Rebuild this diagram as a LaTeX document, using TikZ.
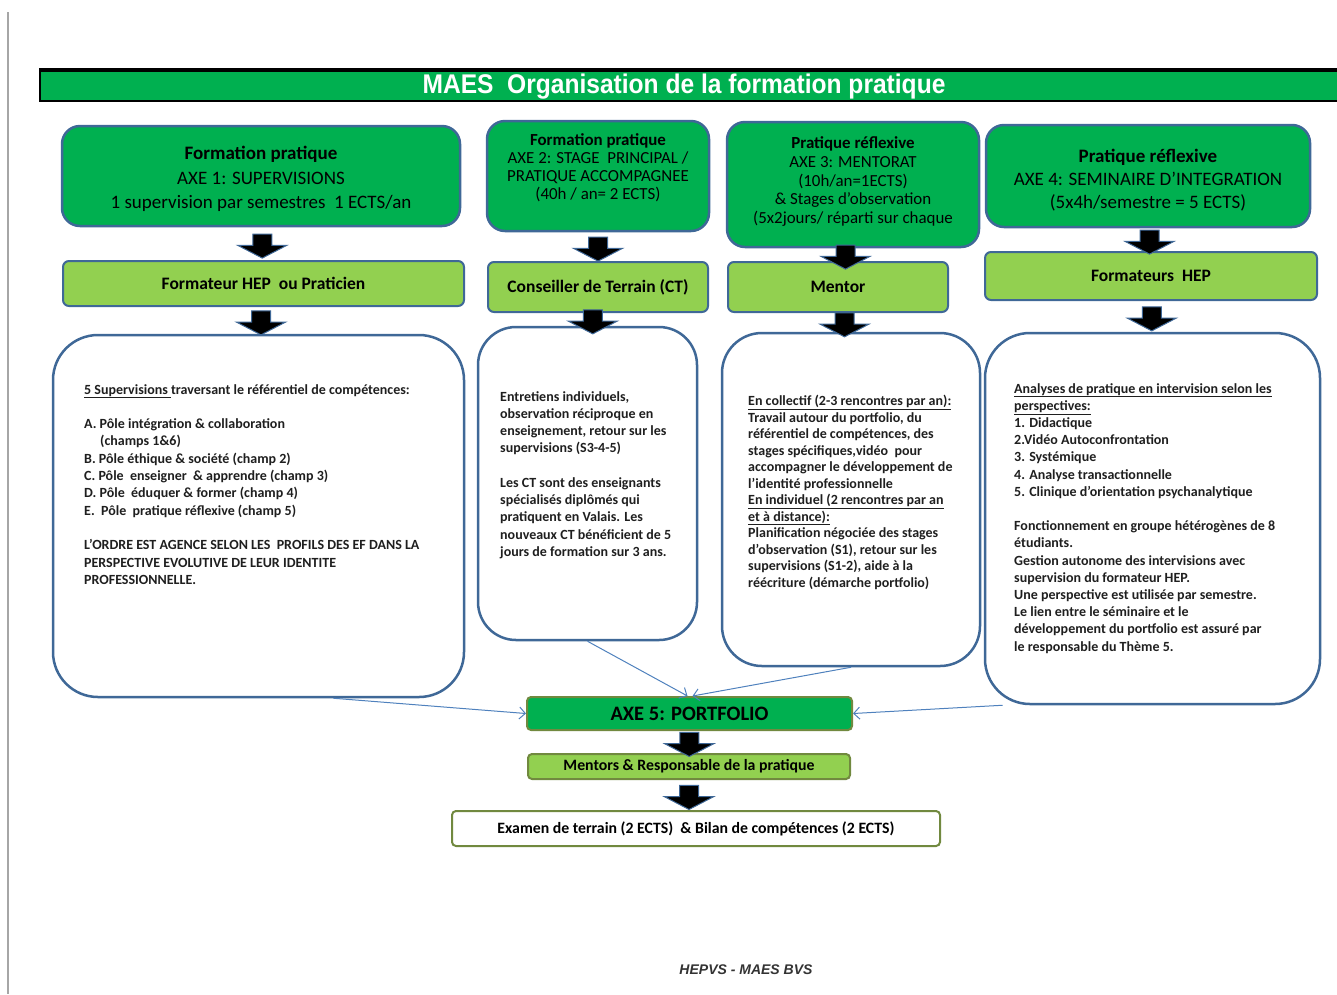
\documentclass[tikz,border=0pt]{standalone}
\usepackage{fontspec}
\setmainfont{Carlito}
\newfontfamily\titlefont{Liberation Sans}
\usetikzlibrary{shapes.arrows,arrows.meta,calc}
\definecolor{axegreen}{HTML}{00B050}
\definecolor{rolegreen}{HTML}{92D050}
\definecolor{boxblue}{HTML}{3F6897}
\definecolor{olivegreen}{HTML}{71893F}
\definecolor{linkblue}{HTML}{4F81BD}

\begin{document}
\begin{tikzpicture}[x=1pt,y=-1pt,
  axe/.style={draw=boxblue,line width=2.5pt,fill=axegreen,rounded corners=18pt,inner sep=0pt,align=center},
  role/.style={draw=boxblue,line width=2pt,fill=rolegreen,rounded corners=6pt,inner sep=0pt,font=\fontsize{17.5}{20}\selectfont\bfseries},
  detail/.style={draw=boxblue,line width=2.5pt,fill=white,rounded corners=45pt,inner sep=0pt},
  note/.style={anchor=north west,inner sep=0pt,align=left,text=black!88,font=\fontsize{14}{17.3}\selectfont\bfseries},
  final/.style={draw=olivegreen,line width=2pt,rounded corners=4pt,inner sep=0pt,font=\bfseries},
  downarrow/.style={single arrow,rotate=-90,fill=black,draw=boxblue,line width=1pt,inner xsep=0pt,inner ysep=9pt,minimum height=24pt,single arrow tip angle=125,single arrow head extend=15pt},
  link/.style={draw=linkblue,line width=1pt,-{Straight Barb[length=6pt,width=12pt]}}]
\useasboundingbox (0,0) rectangle (1337,994);
\draw[gray!70,line width=1.5pt] (8,12) -- (8,994);

% title bar
\fill[axegreen] (40,69) rectangle (1345,101);
\draw[black,line width=2pt] (1345,101) -- (40,101) -- (40,69) -- (1345,69);
\draw[black,line width=3pt] (40,70) -- (1345,70);
\node[text=white,font=\titlefont\bfseries\fontsize{27}{27}\selectfont,xscale=0.91] (title) at (684,87) {MAES\ \ Organisation de la formation pratique};

% the four axes
\node[axe,minimum width=398pt,minimum height=100pt,font=\fontsize{19}{24.5}\selectfont] (axe1) at (261,176)
  {\mbox{}\\[-5pt]\textbf{Formation pratique}\\AXE 1: SUPERVISIONS\\1 supervision par semestres\ \ 1 ECTS/an};
\node[axe,minimum width=222pt,minimum height=110pt,font=\fontsize{16.9}{18}\selectfont] (axe2) at (598,176)
  {\textbf{Formation pratique}\\AXE 2: STAGE\ \ PRINCIPAL /\\PRATIQUE ACCOMPAGNEE\\(40h / an= 2 ECTS)\\\mbox{}};
\node[axe,minimum width=252pt,minimum height=125pt,font=\fontsize{16.9}{18.7}\selectfont] (axe3) at (853,184.5)
  {\textbf{Pratique réflexive}\\AXE 3: MENTORAT\\(10h/an=1ECTS)\\\& Stages d'observation\\(5x2jours/ réparti sur chaque\\[-10pt]\mbox{}};
\node[axe,minimum width=324pt,minimum height=102pt,font=\fontsize{19}{23}\selectfont] (axe4) at (1148,176)
  {\mbox{}\\[-1pt]\textbf{Pratique réflexive}\\AXE 4: SEMINAIRE D'INTEGRATION\\(5x4h/semestre = 5 ECTS)};

% who
\node[role,minimum width=401pt,minimum height=45pt] (role1) at (263.5,283.5) {Formateur HEP\ \ ou Praticien};
\node[role,minimum width=220pt,minimum height=50pt] (role2) at (598,287) {Conseiller de Terrain (CT)};
\node[role,minimum width=220pt,minimum height=50pt] (role3) at (838,287) {Mentor};
\node[role,minimum width=332pt,minimum height=48pt] (role4) at (1151,276) {Formateurs\ \ HEP};

% contents
\node[detail,minimum width=411pt,minimum height=362pt] (det1) at (258.5,516) {};
\node[detail,minimum width=219pt,minimum height=313pt,rounded corners=38pt] (det2) at (587.5,483.5) {};
\node[detail,minimum width=258pt,minimum height=333pt,rounded corners=40pt] (det3) at (851,499.5) {};
\node[detail,minimum width=335pt,minimum height=371pt] (det4) at (1152.5,518.5) {};

\node[note] (det1txt) at (84,384) {\underline{5 Supervisions }traversant le référentiel de compétences:\\[17.3pt]
A. Pôle intégration \& collaboration\\
\hspace*{16pt}(champs 1\&6)\\
B. Pôle éthique \& société (champ 2)\\
C. Pôle\ \ enseigner\ \ \& apprendre (champ 3)\\
D. Pôle\ \ éduquer \& former (champ 4)\\
E.\ \ Pôle\ \ pratique réflexive (champ 5)\\[17.3pt]
L'ORDRE EST AGENCE SELON LES\ \ PROFILS DES EF DANS LA\\
PERSPECTIVE EVOLUTIVE DE LEUR IDENTITE\\
PROFESSIONNELLE.};
\node[note] (det2txt) at (500,391) {Entretiens individuels,\\
observation réciproque en\\
enseignement, retour sur les\\
supervisions (S3-4-5)\\[17.1pt]
Les CT sont des enseignants\\
spécialisés diplômés qui\\
pratiquent en Valais. Les\\
nouveaux CT bénéficient de 5\\
jours de formation sur 3 ans.};
\node[note,font=\fontsize{14}{16.5}\selectfont\bfseries] (det3txt) at (748,395) {\underline{En collectif (2-3 rencontres par an):}\\
Travail autour du portfolio, du\\
référentiel de compétences, des\\
stages spécifiques,vidéo\ \ pour\\
accompagner le développement de\\
l'identité professionnelle\\
\underline{En individuel (2 rencontres par an}\\
\underline{et à distance):}\\
Planification négociée des stages\\
d'observation (S1), retour sur les\\
supervisions (S1-2), aide à la\\
réécriture (démarche portfolio)};
\node[note,font=\fontsize{14}{17.2}\selectfont\bfseries] (det4txt) at (1014,383) {\underline{Analyses de pratique en intervision selon les}\\
\underline{perspectives:}\\
1. Didactique\\
2.Vidéo Autoconfrontation\\
3. Systémique\\
4. Analyse transactionnelle\\
5. Clinique d'orientation psychanalytique\\[17.2pt]
Fonctionnement en groupe hétérogènes de 8\\
étudiants.\\
Gestion autonome des intervisions avec\\
supervision du formateur HEP.\\
Une perspective est utilisée par semestre.\\
Le lien entre le séminaire et le\\
développement du portfolio est assuré par\\
le responsable du Thème 5.};

% portfolio and assessment
\node[final,fill=axegreen,minimum width=325pt,minimum height=33pt,font=\fontsize{20.5}{20.5}\selectfont\bfseries] (portfolio) at (689.5,713.5) {AXE 5: PORTFOLIO};
\node[final,fill=rolegreen,minimum width=322pt,minimum height=25pt,font=\fontsize{15.8}{15.8}\selectfont\bfseries] (mentors) at (689,766.5) {Mentors \& Responsable de la pratique};
\node[final,fill=white,minimum width=488pt,minimum height=35pt,font=\fontsize{15.8}{15.8}\selectfont\bfseries] (exam) at (696,828.5) {Examen de terrain (2 ECTS)\ \ \& Bilan de compétences (2 ECTS)};

% block arrows
\node[downarrow] (a1) at ($(axe1.south)!.5!(role1.north)$) {};
\node[downarrow] (a2) at ($(axe2.south)!.5!(role2.north)$) {};
\node[downarrow] (a3) at ($(axe3.south)!.5!(role3.north)$) {};
\node[downarrow] (a4) at ($(axe4.south)!.5!(role4.north)$) {};
\node[downarrow] (b1) at ($(role1.south)!.5!(det1.north)$) {};
\node[downarrow] (b2) at ($(role2.south)!.5!(det2.north)$) {};
\node[downarrow] (b3) at ($(role3.south)!.5!(det3.north)$) {};
\node[downarrow] (b4) at ($(role4.south)!.5!(det4.north)$) {};
\node[downarrow] (c1) at ($(portfolio.south)!.5!(mentors.north)$) {};
\node[downarrow] (c2) at (mentors.south |- {$(mentors.south)!.5!(exam.north)$}) {};

% thin links to the portfolio
\draw[link] ([xshift=75pt]det1.south) -- (portfolio.west);
\draw[link] (det2.south) -- ([xshift=-2pt]portfolio.north);
\draw[link] (det3.south) -- ([xshift=3pt]portfolio.north);
\draw[link] ([xshift=-150pt]det4.south) -- (portfolio.east);

\node[font=\titlefont\bfseries\itshape\fontsize{14}{14}\selectfont,text=black!80] (footer) at (746,970) {HEPVS - MAES BVS};
\end{tikzpicture}
\end{document}
